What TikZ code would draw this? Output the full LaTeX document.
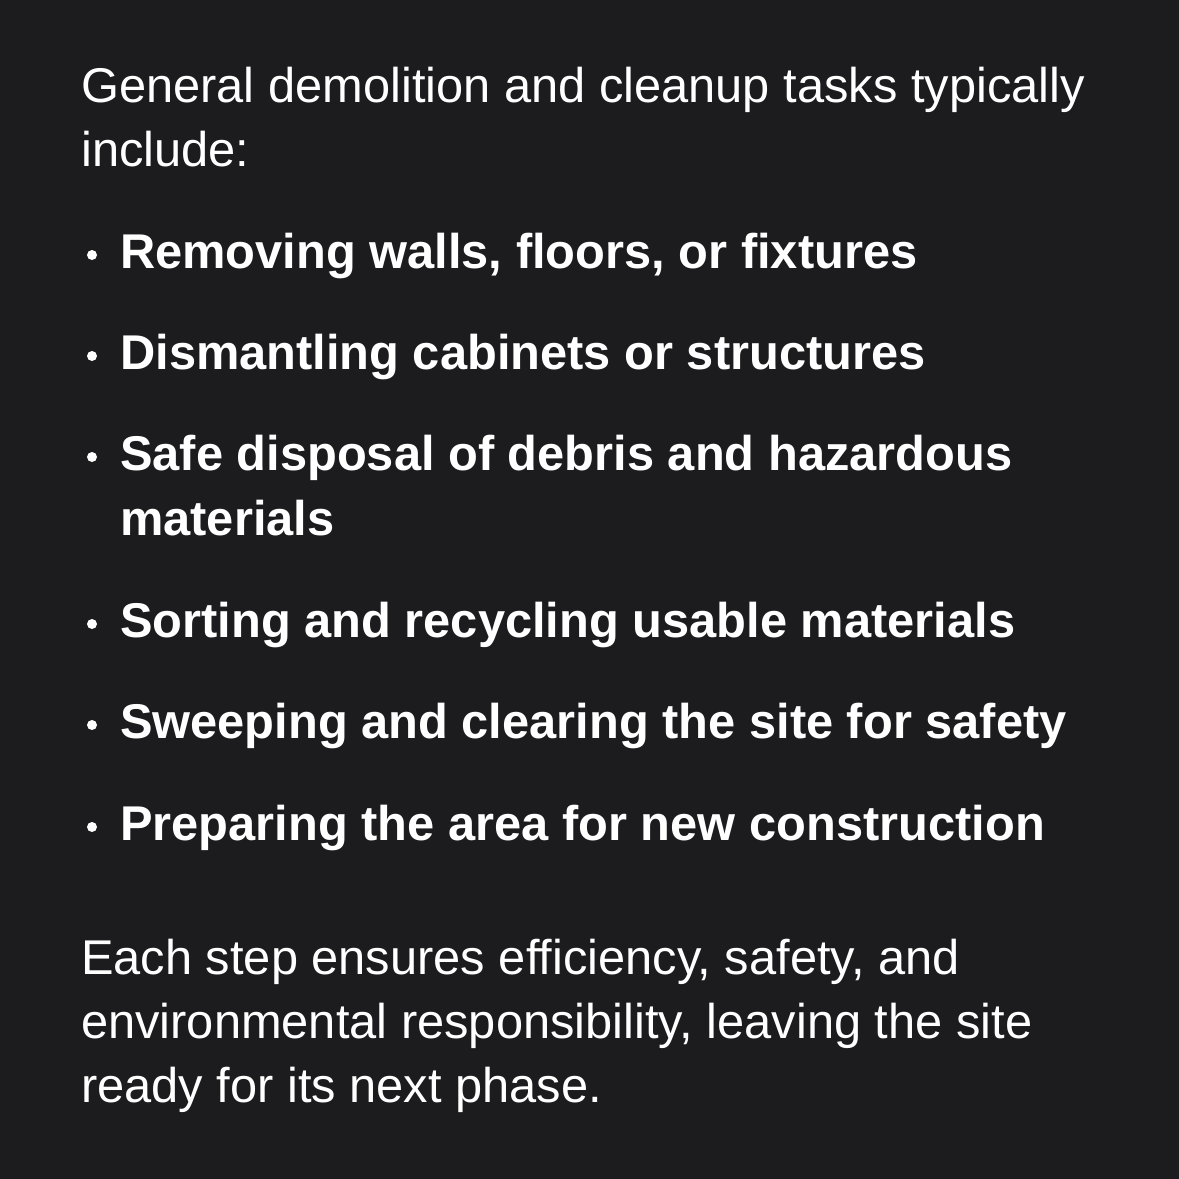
\documentclass[tikz,border=0pt]{standalone}
\usepackage{fontspec}
\setmainfont{Liberation Sans}
\begin{document}
\begin{tikzpicture}[x=1pt,y=-1pt]
  \definecolor{kBack}{HTML}{1C1C1E}
  \tikzset{
    plain/.style={anchor=base west,inner sep=0pt,text=white,align=left,
      font=\fontsize{48.8}{64}\selectfont},
    item/.style={plain,font=\fontsize{48.8}{65}\selectfont\bfseries},
    dot/.style={circle,fill=white,inner sep=0pt,minimum size=10pt}
  }
  \fill[kBack] (0,0) rectangle (1179,1179);
  \useasboundingbox (0,0) rectangle (1179,1179);

  % multi-line nodes sit on the baseline of their last line
  \node[plain] (intro) at (81,166) {General demolition and cleanup tasks typically\\include:};

  \foreach \y/\b/\txt [count=\i] in { 268/268/{Removing walls, floors, or fixtures},
                                      369/369/{Dismantling cabinets or structures},
                                      470/535/{Safe disposal of debris and hazardous\\materials},
                                      637/637/{Sorting and recycling usable materials},
                                      738/738/{Sweeping and clearing the site for safety},
                                      840/840/{Preparing the area for new construction}
                                    }
  {
    \node[dot] (dot\i) at (92,\y-13) {};
    \node[item] (item\i) at (120,\b) {\txt};
  }

  \node[plain] (outro) at (81,1102) {Each step ensures efficiency, safety, and\\environmental responsibility, leaving the site\\ready for its next phase.};
\end{tikzpicture}
\end{document}
